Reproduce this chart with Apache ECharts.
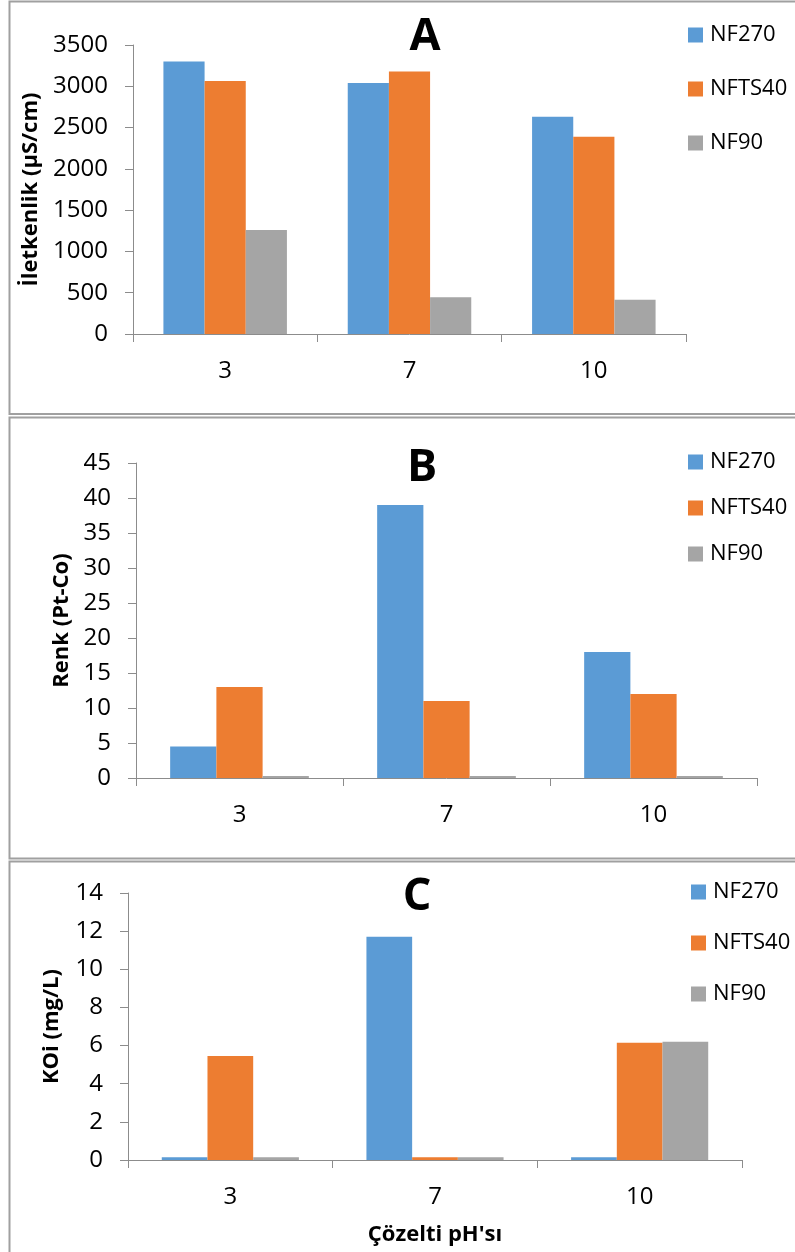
<!DOCTYPE html>
<html>
<head>
<meta charset="utf-8">
<script src="https://cdn.jsdelivr.net/npm/echarts@6/dist/echarts.min.js"></script>
<style>
html,body{margin:0;padding:0;background:#fff;}
#chart{width:795px;height:1252px;}
</style>
</head>
<body>
<div id="chart"></div>
<script>
// Data
const categories = ['3', '7', '10'];
const seriesNames = ['NF270', 'NFTS40', 'NF90'];

const condNF270  = [3300, 3040, 2630];
const condNFTS40 = [3065, 3180, 2390];
const condNF90   = [1260, 445, 415];

const colorNF270  = [4.5, 39, 18];
const colorNFTS40 = [13, 11, 12];
const colorNF90   = [0.3, 0.3, 0.3];

const codNF270  = [0.15, 11.7, 0.15];
const codNFTS40 = [5.45, 0.15, 6.15];
const codNF90   = [0.15, 0.15, 6.2];

const panelTitles = ['A', 'B', 'C'];
const yTitles = ['İletkenlik (µS/cm)', 'Renk (Pt-Co)', 'KOi (mg/L)'];
const xTitle = "Çözelti pH'sı";

const FONT = '"Open Sans", "Liberation Sans", sans-serif';
const colors = ['#5B9BD5', '#ED7D31', '#A5A5A5'];
const axisColor = '#8C8C8C';

const grids = [
  {left: 133, top: 45, width: 553, height: 289},
  {left: 136, top: 463, width: 621, height: 315},
  {left: 128, top: 893, width: 614, height: 267}
];
const yRanges = [
  {min: 0, max: 3500, interval: 500, gap: 78},
  {min: 0, max: 45, interval: 5, gap: 62},
  {min: 0, max: 14, interval: 2, gap: 65}
];
const panelData = [
  [condNF270, condNFTS40, condNF90],
  [colorNF270, colorNFTS40, colorNF90],
  [codNF270, codNFTS40, codNF90]
];

const xAxes = grids.map((g, i) => ({
  type: 'category', gridIndex: i, data: categories,
  axisLine: {lineStyle: {color: axisColor, width: 1}},
  axisTick: {show: true, length: 8, lineStyle: {color: axisColor}},
  axisLabel: {color: '#000', fontFamily: FONT, fontSize: 24, margin: 25},
  name: i === 2 ? xTitle : '', nameLocation: 'middle', nameGap: 64,
  nameTextStyle: {color: '#000', fontFamily: FONT, fontSize: 22, fontWeight: 'bold'}
}));
const yAxes = grids.map((g, i) => ({
  type: 'value', gridIndex: i,
  min: yRanges[i].min, max: yRanges[i].max, interval: yRanges[i].interval,
  axisLine: {show: true, lineStyle: {color: axisColor, width: 1}},
  axisTick: {show: true, length: 8, lineStyle: {color: axisColor}},
  splitLine: {show: false},
  axisLabel: {color: '#000', fontFamily: FONT, fontSize: 24, margin: 25,
              formatter: v => String(v)},
  name: yTitles[i], nameLocation: 'middle', nameGap: yRanges[i].gap, nameRotate: 90,
  nameTextStyle: {color: '#000', fontFamily: FONT, fontSize: 22, fontWeight: 'bold'}
}));

const series = [];
panelData.forEach((arrs, p) => {
  arrs.forEach((arr, s) => {
    series.push({
      type: 'bar', name: seriesNames[s], xAxisIndex: p, yAxisIndex: p,
      data: arr, barGap: '0%', barCategoryGap: '33%',
      itemStyle: {color: colors[s]}
    });
  });
});

const legendTops = [18, 445, 875];
const legendGaps = [30, 22, 27];
const legendLefts = [683, 683, 686];
const legends = legendTops.map((t, i) => ({
  orient: 'vertical', left: legendLefts[i], top: t,
  itemWidth: 15, itemHeight: 15, itemGap: legendGaps[i], icon: 'rect',
  selectedMode: false,
  data: seriesNames,
  textStyle: {color: '#000', fontFamily: FONT, fontSize: 22, lineHeight: 24, padding: [0, 0, 0, 2]}
}));

const titlePos = [[425, 37], [422, 468], [417, 897]];
const graphic = [
  {type: 'rect', shape: {x: 9.5, y: 1.5, width: 800, height: 412.5}, style: {fill: 'none', stroke: '#A0A0A0', lineWidth: 2}, silent: true},
  {type: 'rect', shape: {x: 9.5, y: 417.5, width: 800, height: 441}, style: {fill: 'none', stroke: '#A0A0A0', lineWidth: 2}, silent: true},
  {type: 'rect', shape: {x: 9.5, y: 861.5, width: 800, height: 420}, style: {fill: 'none', stroke: '#A0A0A0', lineWidth: 2}, silent: true}
].concat(panelTitles.map((t, i) => ({
  type: 'text', x: titlePos[i][0], y: titlePos[i][1],
  style: {text: t, font: 'bold 45px ' + FONT, fill: '#000', align: 'center', verticalAlign: 'middle'}
})));

const chart = echarts.init(document.getElementById('chart'), null, {renderer: 'canvas'});
chart.setOption({
  animation: false,
  backgroundColor: '#fff',
  grid: grids,
  xAxis: xAxes,
  yAxis: yAxes,
  legend: legends,
  series: series,
  graphic: graphic
});
</script>
</body>
</html>
